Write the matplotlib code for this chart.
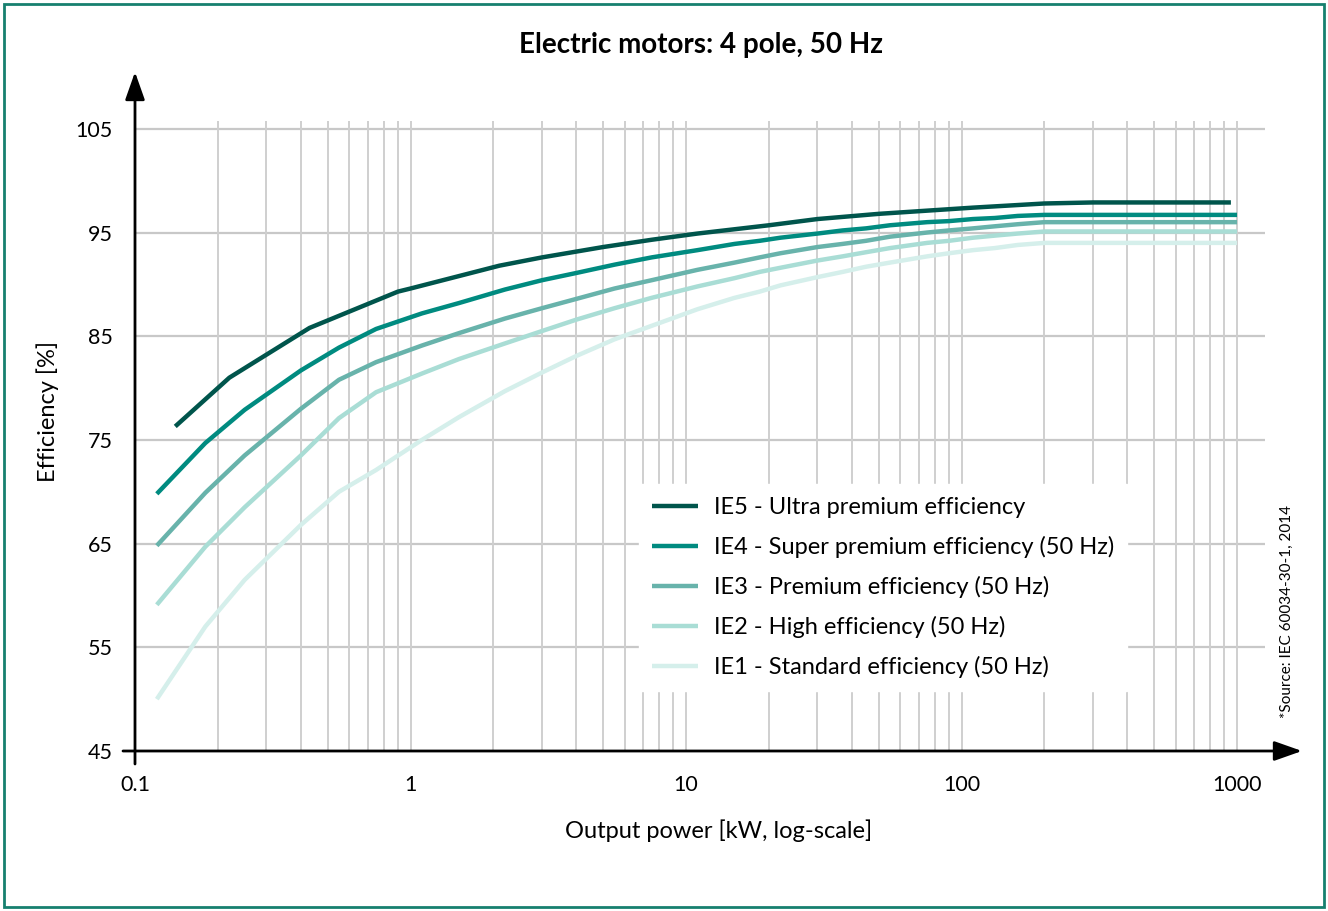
import numpy as np
import matplotlib
matplotlib.use('Agg')
import matplotlib.pyplot as plt
from matplotlib.patches import Rectangle

matplotlib.rcParams['font.family'] = ['Lato', 'DejaVu Sans']

# rated output power [kW] and minimum efficiency [%] per class, 4 pole 50 Hz
power = [0.12, 0.18, 0.25, 0.4, 0.55, 0.75, 1.1, 1.5, 2.2, 3, 4, 5.5, 7.5, 11, 15,
         18.5, 22, 30, 37, 45, 55, 75, 90, 110, 132, 160, 200, 1000]
ie1 = [50.0, 57.0, 61.5, 66.8, 70.0, 72.1, 75.0, 77.2, 79.7, 81.5, 83.1, 84.7, 86.0, 87.6, 88.7,
       89.3, 89.9, 90.7, 91.2, 91.7, 92.1, 92.7, 93.0, 93.3, 93.5, 93.8, 94.0, 94.0]
ie2 = [59.1, 64.7, 68.5, 73.5, 77.1, 79.6, 81.4, 82.8, 84.3, 85.5, 86.6, 87.7, 88.7, 89.8, 90.6,
       91.2, 91.6, 92.3, 92.7, 93.1, 93.5, 94.0, 94.2, 94.5, 94.7, 94.9, 95.1, 95.1]
ie3 = [64.8, 69.9, 73.5, 78.0, 80.8, 82.5, 84.1, 85.3, 86.7, 87.7, 88.6, 89.6, 90.4, 91.4, 92.1,
       92.6, 93.0, 93.6, 93.9, 94.2, 94.6, 95.0, 95.2, 95.4, 95.6, 95.8, 96.0, 96.0]
ie4 = [69.8, 74.7, 77.9, 81.7, 83.9, 85.7, 87.2, 88.2, 89.5, 90.4, 91.1, 91.9, 92.6, 93.3, 93.9,
       94.2, 94.5, 94.9, 95.2, 95.4, 95.7, 96.0, 96.1, 96.3, 96.4, 96.6, 96.7, 96.7]

power_ie5 = [0.14, 0.22, 0.43, 0.9, 1.0, 2.1, 3, 5, 7.5, 11, 20, 30, 50, 110, 200, 300, 950]
ie5 = [76.3, 81.0, 85.8, 89.3, 89.6, 91.8, 92.6, 93.6, 94.3, 94.9, 95.7, 96.3, 96.8, 97.4, 97.8, 97.9, 97.9]

labels = ['IE5 - Ultra premium efficiency',
          'IE4 - Super premium efficiency (50 Hz)',
          'IE3 - Premium efficiency (50 Hz)',
          'IE2 - High efficiency (50 Hz)',
          'IE1 - Standard efficiency (50 Hz)']
colors = ['#00554c', '#008b80', '#68b3ab', '#a9ddd5', '#d5efeb']

yticks_ = [45, 55, 65, 75, 85, 95, 105]
xticks_ = [0.1, 1, 10, 100, 1000]
xtick_labels = ['0.1', '1', '10', '100', '1000']

W, H = 1328, 911
fig = plt.figure(figsize=(W / 100, H / 100), dpi=100)
ax = fig.add_axes([135 / W, 160 / H, 1167 / W, 679 / H])
ax.set_xscale('log')
ax.set_xlim(0.1, 1721)
ax.set_ylim(45, 110.48)

# grid: horizontal lines every 10 %, vertical at 2..9 of each decade
ax.hlines(yticks_[1:], 0.1, 1263, color='#c8c8c8', lw=1.6, zorder=1)
grid_x = [m * 10.0 ** e for e in range(-1, 3) for m in range(2, 10)]
grid_x = grid_x + [1, 10, 100, 1000]
grid_x = [g for g in grid_x if g > 0.1]
ax.vlines(grid_x, 45, 105.8, color='#cfcfcf', lw=1.4, zorder=1)

series = [(power_ie5, ie5), (power, ie4), (power, ie3), (power, ie2), (power, ie1)]
for (px, py), lab, col in zip(series, labels, colors):
    ax.plot(px, py, color=col, lw=3.2, label=lab, zorder=3, solid_capstyle='butt')

for s in ax.spines.values():
    s.set_visible(False)
ax.tick_params(length=0, labelsize=15.5)
ax.set_xticks(xticks_)
ax.set_xticklabels(xtick_labels)
ax.xaxis.set_minor_locator(matplotlib.ticker.NullLocator())
ax.set_yticks(yticks_)
ax.tick_params(axis='y', pad=16)
ax.tick_params(axis='x', pad=17)

# axis arrows
arr = dict(arrowstyle='-|>,head_length=0.85,head_width=0.3', lw=2, color='black',
           mutation_scale=20, shrinkA=0, shrinkB=0)
ax.annotate('', xy=(1, 0), xytext=(-12 / 1167, 0), xycoords='axes fraction',
            arrowprops=arr, annotation_clip=False)
ax.annotate('', xy=(0, 1), xytext=(0, -13 / 679), xycoords='axes fraction',
            arrowprops=arr, annotation_clip=False)

ax.set_xlabel('Output power [kW, log-scale]', fontsize=17, labelpad=18)
ax.set_ylabel('Efficiency [%]', fontsize=17, labelpad=12)
fig.text(701 / W, 1 - 45 / H, 'Electric motors: 4 pole, 50 Hz', fontsize=20,
         fontweight='bold', ha='center', va='center')
fig.text(1287 / W, 1 - 612 / H, '*Source: IEC 60034-30-1, 2014', fontsize=11,
         rotation=90, ha='center', va='center')

leg = ax.legend(loc='upper left', bbox_to_anchor=(627 / W, 1 - 472 / H),
                bbox_transform=fig.transFigure, fontsize=17, frameon=True,
                fancybox=False, framealpha=1, edgecolor='white', facecolor='white',
                handlelength=1.95, handletextpad=0.68, labelspacing=0.76, borderpad=0.55)
leg.set_zorder(5)

fig.patches.append(Rectangle((4 / W, 4 / H), 1320 / W, 903 / H, transform=fig.transFigure,
                             fill=False, ec='#16806f', lw=2))

fig.savefig('out.png', dpi=100)
